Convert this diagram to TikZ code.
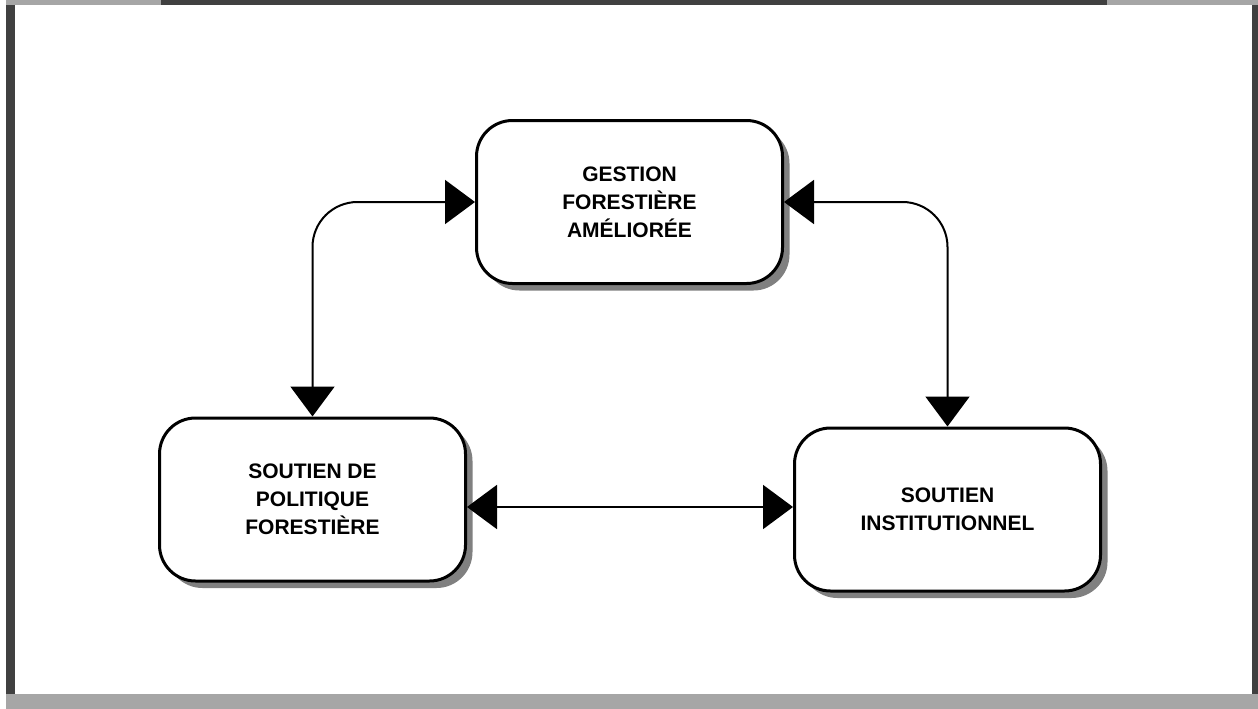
\documentclass[tikz,border=0pt]{standalone}
\usepackage{fontspec}
\setmainfont{Liberation Sans}
\usepackage{xcolor}
\usepackage{tikz}
\usetikzlibrary{arrows.meta,shadows}
\definecolor{framedark}{RGB}{64,64,64}
\definecolor{framelight}{RGB}{166,166,166}
\definecolor{shadowgray}{RGB}{128,128,128}
\tikzset{every picture/.style={line width=2pt}}
\tikzset{
  box/.style={draw, line width=3pt, fill=white, rounded corners=36pt,
    minimum width=306pt, minimum height=163pt, align=center, inner sep=0pt,
    font=\fontsize{21}{28}\selectfont\bfseries,
    drop shadow={shadow xshift=7pt, shadow yshift=-7pt, fill=shadowgray, opacity=1}},
  link/.style={line width=2pt, rounded corners=45pt,
    {Triangle[length=30pt,width=44pt]}-{Triangle[length=30pt,width=44pt]}}
}

\begin{document}
\begin{tikzpicture}[x=1pt,y=1pt,yscale=-1,xscale=1]
    \useasboundingbox (0,0) rectangle (1258,709);
    % frame
    \fill [framelight] (6,0) rectangle (161,5);
    \fill [framedark] (161,0) rectangle (1107,5);
    \fill [framelight] (1107,0) rectangle (1258,5);
    \fill [framedark] (6,5) rectangle (15,694);
    \fill [framedark] (1252,5) rectangle (1258,694);
    \fill [framelight] (6,694) rectangle (1258,709);
    % boxes
    \draw (629.5,202) node [box] (gest) {GESTION\\FORESTIÈRE\\AMÉLIORÉE};
    \draw (312.5,499.5) node [box] (poli) {SOUTIEN DE\\POLITIQUE\\FORESTIÈRE};
    \draw (947.5,509.5) node [box] (inst) {SOUTIEN\\INSTITUTIONNEL};
    % links
    \draw [link] (poli.north) |- (gest.west);
    \draw [link] (gest.east) -| (inst.north);
    \draw [link] (poli.east |- 0,507) -- (inst.west |- 0,507);
\end{tikzpicture}
\end{document}
